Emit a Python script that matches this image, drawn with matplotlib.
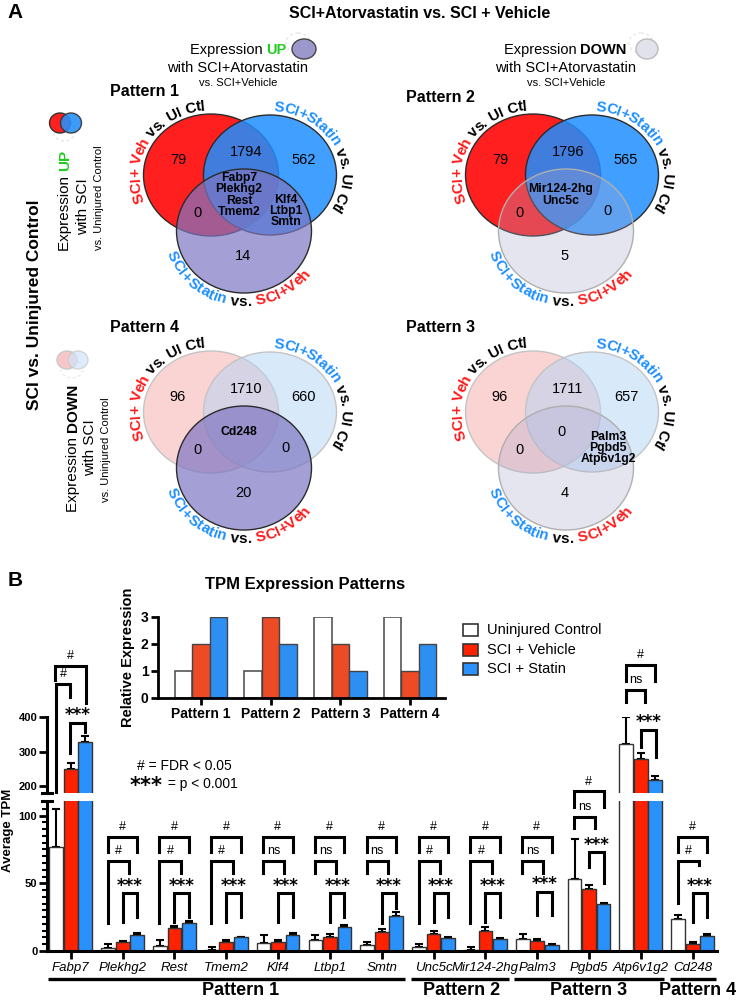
#!/usr/bin/env python3
'''
Two-panel figure: (A) Venn diagrams of genes changed with SCI and with
atorvastatin, (B) average TPM of the pattern genes with an inset of the
expected expression patterns.
'''
import numpy as np
import matplotlib
matplotlib.use('Agg')
import matplotlib.pyplot as plt
from matplotlib.patches import Ellipse, Rectangle
from matplotlib.font_manager import FontProperties
from matplotlib.textpath import TextToPath
from matplotlib.ticker import MultipleLocator

plt.rcParams['font.family'] = ['Liberation Sans', 'DejaVu Sans']

W, H, DPI = 739, 1001, 100
RED, BLUE = '#FF2200', '#2A90FA'
TXT_RED, TXT_BLUE, GREEN = '#FF1A1A', '#1E8FFF', '#22CC22'

# ---- panel A: Venn counts (order: Pattern 1, Pattern 2, Pattern 4, Pattern 3)
venn_titles = ['Pattern 1', 'Pattern 2', 'Pattern 4', 'Pattern 3']
veh_only = ['79', '79', '96', '96']
veh_and_statin = ['1794', '1796', '1710', '1711']
statin_only = ['562', '565', '660', '657']
veh_and_third = ['0', '0', '0', '0']
statin_and_third = ['Klf4\nLtbp1\nSmtn', '0', '0', 'Palm3\nPgbd5\nAtp6v1g2']
all_three = ['Fabp7\nPlekhg2\nRest\nTmem2', 'Mir124-2hg\nUnc5c', 'Cd248', '0']
third_only = ['14', '5', '20', '4']

# ---- panel B: inset with relative expression
patterns = ['Pattern 1', 'Pattern 2', 'Pattern 3', 'Pattern 4']
rel_uninjured = [1, 1, 3, 3]
rel_vehicle = [2, 3, 2, 1]
rel_statin = [3, 2, 1, 2]

# ---- panel B: average TPM and SEM
genes = ['Fabp7', 'Plekhg2', 'Rest', 'Tmem2', 'Klf4', 'Ltbp1', 'Smtn',
         'Unc5c', 'Mir124-2hg', 'Palm3', 'Pgbd5', 'Atp6v1g2', 'Cd248']
uninjured = [77, 2, 4, 1, 6, 8, 4.5, 3, 1, 8.6, 53, 323, 24]
uninjured_err = [28, 3, 4, 2, 6, 3.5, 2, 2.5, 2, 3.7, 30, 77, 2.6]
vehicle = [250, 6.5, 17, 7, 7, 10.5, 14, 12.8, 14.8, 7.4, 46, 277, 5.4]
vehicle_err = [16, 1, 1.5, 1, 1, 2, 2.5, 2, 3, 1.1, 3, 20, 1.1]
statin = [329, 12, 21, 10, 12, 17.5, 26, 9.4, 8.6, 4.4, 34.5, 217, 11]
statin_err = [17, 1, 1, 0.5, 1.5, 1.5, 3, 1, 1, 0.6, 1, 12, 1.5]
sig_top = ['#'] * 13
sig_mid = ['#', '#', '#', '#', 'ns', 'ns', 'ns', '#', '#', 'ns', 'ns', 'ns', '#']
sig_bot = ['***'] * 13
pattern_groups = [('Pattern 1', 0, 6), ('Pattern 2', 7, 8),
                  ('Pattern 3', 9, 11), ('Pattern 4', 12, 12)]

TTP = TextToPath()


def text_width(s, size, weight='normal', family='Liberation Sans'):
    '''Advance width of s in pixels (trailing spaces included).'''
    prop = FontProperties(family=family, size=size, weight=weight)
    bar = TTP.get_text_width_height_descent('|', prop, ismath=False)[0]
    full = TTP.get_text_width_height_descent(s + '|', prop, ismath=False)[0]
    return (full - bar) * DPI / 72


def px_rect(x0, y0, x1, y1):
    return [x0 / W, 1 - y1 / H, (x1 - x0) / W, (y1 - y0) / H]


def rich_text(ax, x, y, pieces, size, rotation=0):
    '''Centered text made of (string, color, weight) pieces.'''
    widths = [text_width(t, size, wt) for t, _, wt in pieces]
    pos = -sum(widths) / 2
    for (t, c, wt), wd in zip(pieces, widths):
        if rotation == 0:
            ax.text(x + pos, y, t, color=c, fontweight=wt, fontsize=size,
                    ha='left', va='center')
        else:
            ax.text(x, y - pos, t, color=c, fontweight=wt, fontsize=size,
                    rotation=90, rotation_mode='anchor', ha='left', va='center')
        pos += wd


def arc_text(ax, ell, gap, t0, direction, segments, size=11):
    '''Bold text running along the outside of an ellipse.'''
    cx, cy, w, h = ell
    A, B = w / 2 + gap, h / 2 + gap
    ts = np.radians(t0) + direction * np.linspace(0, 2 * np.pi, 4000)
    speed = np.hypot(A * np.sin(ts), B * np.cos(ts))
    s = np.concatenate([[0], np.cumsum(0.5 * (speed[1:] + speed[:-1])
                                       * np.abs(np.diff(ts)))])
    full = ''.join(seg for seg, _ in segments)
    colors = [c for seg, c in segments for _ in seg]
    for i, ch in enumerate(full):
        if ch == ' ':
            continue
        a = text_width(full[:i], size, 'bold')
        b = text_width(full[:i + 1], size, 'bold')
        t = np.interp((a + b) / 2, s, ts)
        dx = -A * np.sin(t) * direction
        dy = B * np.cos(t) * direction
        ax.text(cx + A * np.cos(t), cy - B * np.sin(t), ch, color=colors[i],
                fontsize=size, fontweight='bold',
                rotation=np.degrees(np.arctan2(dy, dx)),
                rotation_mode='anchor', ha='center', va='center')


SAT_RED = dict(fc='#FF1F1F', alpha=1.0, ec='#2b2b2b')
SAT_BLUE = dict(fc='#1F8FFF', alpha=0.85, ec='#2b2b2b')
PALE_RED = dict(fc='#F7B0B0', alpha=0.55, ec='#C4C4C4')
PALE_BLUE = dict(fc='#B3D4F7', alpha=0.5, ec='#C4C4C4')
SAT_PURPLE = dict(fc='#7E76C2', alpha=0.7, ec='#2b2b2b')
LIGHT_PURPLE = dict(fc='#A9A9CE', alpha=0.3, ec='#AFAFAF')
VENN_LAYOUT = [((0, 0), (144, 92), SAT_RED, SAT_BLUE, SAT_PURPLE),
               ((322, 0), (440, 97), SAT_RED, SAT_BLUE, LIGHT_PURPLE),
               ((0, 237), (145, 328), PALE_RED, PALE_BLUE, SAT_PURPLE),
               ((322, 237), (441, 328), PALE_RED, PALE_BLUE, LIGHT_PURPLE)]


def draw_venn(ax, k):
    (ox, oy), title_xy, st_r, st_b, st_p = VENN_LAYOUT[k]
    ells = [(211 + ox, 175 + oy, 135, 122), (270 + ox, 175 + oy, 133, 120),
            (244 + ox, 231 + oy, 135, 124)]
    for z, (e, st) in enumerate(zip(ells, [st_r, st_b, st_p])):
        ax.add_patch(Ellipse(e[:2], e[2], e[3], fc=st['fc'], alpha=st['alpha'],
                             ec='none', zorder=2 * z + 1))
        ax.add_patch(Ellipse(e[:2], e[2], e[3], fill=False, ec=st['ec'],
                             lw=1.0, zorder=2 * z + 2))
    ax.text(*title_xy, venn_titles[k], fontsize=11.5, fontweight='bold',
            ha='center', va='center')
    regions = [(veh_only, (178, 160)), (veh_and_statin, (246, 152)),
               (statin_only, (304, 160)), (veh_and_third, (197, 213)),
               (statin_and_third, (286, 211)), (all_three, (239, 195)),
               (third_only, (243, 256))]
    for vals, (rx, ry) in regions:
        s = vals[k]
        gene = not s.isdigit()
        ax.text(rx + ox, ry + oy, s, ha='center', va='center', zorder=10,
                fontsize=8.8 if gene else 10.5,
                fontweight='bold' if gene else 'normal', linespacing=0.92)
    arc_text(ax, ells[0], 8, 203, -1, [('SCI+ Veh', TXT_RED), (' vs. UI Ctl', 'black')])
    arc_text(ax, ells[1], 8, 87, -1, [('SCI+Statin', TXT_BLUE), (' vs. UI Ctl', 'black')])
    arc_text(ax, ells[2], 9, 197, 1, [('SCI+Statin', TXT_BLUE), (' vs. ', 'black'),
                                      ('SCI+Veh', TXT_RED)])


def bracket(ax, xl, xr, y, yl, yr, label):
    ax.plot([xl, xl, xr, xr], [yl, y, y, yr], color='black', lw=2.2,
            clip_on=False, solid_joinstyle='miter', zorder=5)
    if label == '***':
        ax.annotate(label, xy=((xl + xr) / 2, y), xytext=(0, 5.5),
                    textcoords='offset points', ha='center', va='center',
                    fontsize=12, fontweight='bold', family='DejaVu Sans',
                    annotation_clip=False)
    else:
        ax.annotate(label, xy=((xl + xr) / 2, y), xytext=(0, 7),
                    textcoords='offset points', ha='center', va='center',
                    fontsize=9, annotation_clip=False)


def draw_bars(ax, x):
    offsets = [-0.28, 0.0, 0.28]
    series = [(uninjured, uninjured_err, 'white'), (vehicle, vehicle_err, RED),
              (statin, statin_err, BLUE)]
    for off, (vals, errs, col) in zip(offsets, series):
        ax.errorbar(x + off, vals, yerr=[np.zeros(len(vals)), errs], fmt='none',
                    ecolor='black', elinewidth=1.5, capsize=3, capthick=1.5,
                    zorder=1.5)
        ax.bar(x + off, vals, width=0.265, color=col, edgecolor='#333333',
               linewidth=1, zorder=2)


def main():
    fig = plt.figure(figsize=(W / DPI, H / DPI), dpi=DPI)
    ov = fig.add_axes([0, 0, 1, 1])
    ov.set_xlim(0, W)
    ov.set_ylim(H, 0)
    ov.axis('off')

    # ---------------- panel A
    ov.text(15, 13, 'A', fontsize=15, fontweight='bold', ha='center', va='center')
    ov.text(420, 14, 'SCI+Atorvastatin vs. SCI + Vehicle', fontsize=11.5,
            fontweight='bold', ha='center', va='center')
    rich_text(ov, 238, 50, [('Expression ', 'black', 'normal'), ('UP', GREEN, 'bold')], 10.5)
    rich_text(ov, 565, 50, [('Expression ', 'black', 'normal'), ('DOWN', 'black', 'bold')], 10.5)
    for xc in (238, 566):
        ov.text(xc, 68, 'with SCI+Atorvastatin', fontsize=10.5, ha='center', va='center')
        ov.text(xc, 83, 'vs. SCI+Vehicle', fontsize=8, ha='center', va='center')
    ov.add_patch(Ellipse((298, 43), 24, 20, fill=False, ec='#E4E4E4', lw=1, ls=(0, (2, 2))))
    ov.add_patch(Ellipse((304, 49), 24, 20, fc='#9C98CC', ec='#444444', lw=1))
    ov.add_patch(Ellipse((641, 43), 24, 20, fill=False, ec='#E8E8E8', lw=1, ls=(0, (2, 2))))
    ov.add_patch(Ellipse((647, 49), 22, 20, fc='#E2E2EC', ec='#BBBBBB', lw=1))

    ov.text(35, 305, 'SCI vs. Uninjured Control', fontsize=12.5, fontweight='bold',
            rotation=90, ha='center', va='center')
    rich_text(ov, 65, 200, [('Expression ', 'black', 'normal'), ('UP', GREEN, 'bold')],
              11, rotation=90)
    ov.text(83, 207, 'with SCI', fontsize=11, rotation=90, ha='center', va='center')
    ov.text(99, 198, 'vs. Uninjured Control', fontsize=8, rotation=90,
            ha='center', va='center')
    rich_text(ov, 73, 448, [('Expression ', 'black', 'normal'), ('DOWN', 'black', 'bold')],
              11, rotation=90)
    ov.text(90, 448, 'with SCI', fontsize=11, rotation=90, ha='center', va='center')
    ov.text(106, 450, 'vs. Uninjured Control', fontsize=8, rotation=90,
            ha='center', va='center')
    ov.add_patch(Ellipse((64, 131), 22, 20, fill=False, ec='#E4E4E4', lw=1, ls=(0, (2, 2))))
    ov.add_patch(Ellipse((60, 123), 21, 20, fc='#FF2020', ec='#333333', lw=1))
    ov.add_patch(Ellipse((71, 123), 21, 20, fc='#2A90F8', alpha=0.9, ec='#333333', lw=1))
    ov.add_patch(Ellipse((72, 369), 22, 18, fill=False, ec='#EAEAEA', lw=1, ls=(0, (2, 2))))
    ov.add_patch(Ellipse((67, 360), 20, 18, fc='#F8C6C6', ec='#C8C8C8', lw=1))
    ov.add_patch(Ellipse((78, 360), 20, 18, fc='#CFE3F8', alpha=0.7, ec='#C8C8C8', lw=1))

    for k in range(4):
        draw_venn(ov, k)

    # ---------------- panel B
    ov.text(15, 581, 'B', fontsize=15, fontweight='bold', ha='center', va='center')
    ov.text(305, 585, 'TPM Expression Patterns', fontsize=12, fontweight='bold',
            ha='center', va='center')
    ov.text(137, 766, '# = FDR < 0.05', fontsize=10, ha='left', va='center')
    ov.text(130, 786, '***', fontsize=15, fontweight='bold', family='DejaVu Sans',
            ha='left', va='center')
    ov.text(164, 784, ' = p < 0.001', fontsize=10, ha='left', va='center')
    ov.text(8, 830, 'Average TPM', fontsize=9.5, fontweight='bold', rotation=90,
            ha='center', va='center')

    # legend
    for i, (lab, col) in enumerate([('Uninjured Control', 'white'),
                                    ('SCI + Vehicle', RED), ('SCI + Statin', BLUE)]):
        yc = 630 + 19.5 * i
        ov.add_patch(Rectangle((463, yc - 6), 14.5, 12, fc=col, ec='#333333', lw=1.2))
        ov.text(487, yc, lab, fontsize=10.5, ha='left', va='center')

    # inset
    ins = fig.add_axes(px_rect(158.3, 616.7, 445, 697.7))
    ix = np.arange(len(patterns))
    ins.bar(ix - 0.25, rel_uninjured, 0.25, color='white', edgecolor='#555555', lw=1.2)
    ins.bar(ix, rel_vehicle, 0.25, color='#EC4B26', edgecolor='#444444', lw=1)
    ins.bar(ix + 0.25, rel_statin, 0.25, color='#2E8FF2', edgecolor='#444444', lw=1)
    ins.set_xlim(-0.61, 3.5)
    ins.set_ylim(0, 3)
    ins.set_yticks([0, 1, 2, 3])
    ins.set_xticks(ix, patterns)
    ins.set_ylabel('Relative Expression', fontsize=10.5, fontweight='bold', labelpad=4)
    for sp in ('top', 'right'):
        ins.spines[sp].set_visible(False)
    for sp in ('left', 'bottom'):
        ins.spines[sp].set_linewidth(2)
    ins.tick_params(width=2, length=5, labelsize=10, pad=2)
    for lab in ins.get_xticklabels() + ins.get_yticklabels():
        lab.set_fontweight('bold')
    ins.patch.set_alpha(0)

    # main broken-axis bar chart
    x = np.arange(len(genes))
    ax_lo = fig.add_axes(px_rect(47, 801, 717, 951))
    ax_hi = fig.add_axes(px_rect(47, 717, 717, 793))
    for ax in (ax_lo, ax_hi):
        draw_bars(ax, x)
        ax.set_xlim(-0.46, 12.47)
        ax.patch.set_alpha(0)
        for sp in ('top', 'right'):
            ax.spines[sp].set_visible(False)
        ax.spines['left'].set_linewidth(2.2)
        ax.spines['bottom'].set_linewidth(2.2)
        ax.tick_params(axis='y', width=2, length=6, labelsize=8, pad=1)
    ax_lo.set_ylim(0, 110.8)
    ax_lo.set_yticks([0, 50, 100])
    ax_lo.yaxis.set_minor_locator(MultipleLocator(5))
    ax_lo.tick_params(axis='y', which='minor', width=1.5, length=3.5)
    ax_lo.set_xticks(x, genes, fontsize=9.5, fontstyle='italic')
    ax_lo.tick_params(axis='x', width=2, length=6, pad=2)
    ax_hi.set_ylim(180, 400)
    ax_hi.set_yticks([200, 300, 400])
    ax_hi.spines['bottom'].set_visible(False)
    ax_hi.set_xticks([])
    for ax in (ax_lo, ax_hi):
        for lab in ax.get_yticklabels():
            lab.set_fontweight('bold')
    ax_lo.plot([-0.008, 0.008], [1, 1], transform=ax_lo.transAxes, color='black',
               lw=2.2, clip_on=False)
    ax_hi.plot([-0.008, 0.008], [0, 0], transform=ax_hi.transAxes, color='black',
               lw=2.2, clip_on=False)

    # significance brackets (geometry per gene)
    for i in range(len(genes)):
        if i in (0, 11):
            continue
        top = (84.4, 73.3, 73.3)
        mid = (66.5, 20.5 if sig_mid[i] == '#' else 57.6, 57.6)
        bot = (42.6, 21.6, 25.3)
        if genes[i] == 'Smtn':
            bot = (42.6, 20.6, 32)
        if genes[i] == 'Palm3':
            bot = (43.8, 26.6, 26.6)
        if genes[i] == 'Cd248':
            mid = (66.5, 35.4, 63.6)
        if genes[i] == 'Pgbd5':
            top, mid, bot = (118, 106.6, 106.6), (99, 91, 91), (73, 62, 50)
        bracket(ax_lo, i - 0.29, i + 0.28, *top, sig_top[i])
        bracket(ax_lo, i - 0.29, i + 0.12, *mid, sig_mid[i])
        bracket(ax_lo, i + 0.0, i + 0.28, *bot, sig_bot[i])
    bracket(ax_hi, -0.31, 0.29, 548, 507, 440, sig_top[0])
    bracket(ax_hi, -0.29, -0.01, 495, 182, 459, sig_mid[0])
    bracket(ax_hi, -0.01, 0.28, 383.5, 295, 357, sig_bot[0])
    bracket(ax_hi, 11 - 0.29, 11 + 0.28, 551, 505, 505, sig_top[11])
    bracket(ax_hi, 11 - 0.29, 11 + 0.08, 478, 444, 444, sig_mid[11])
    bracket(ax_hi, 11 + 0.0, 11 + 0.29, 362, 314, 285, sig_bot[11])

    # pattern groups under the axis
    label_x = [3.27, 7.55, 10.0, 12.1]
    trans = ax_lo.get_xaxis_transform()
    for (name, first, last), lx in zip(pattern_groups, label_x):
        ax_lo.plot([first - 0.44, last + 0.45], [-0.187, -0.187], transform=trans,
                   color='black', lw=2.4, clip_on=False, solid_capstyle='butt')
        ax_lo.text(lx, -0.265, name, transform=trans, fontsize=13,
                   fontweight='bold', ha='center', va='center')

    fig.savefig('out.png', dpi=DPI)


if __name__ == '__main__':
    main()
